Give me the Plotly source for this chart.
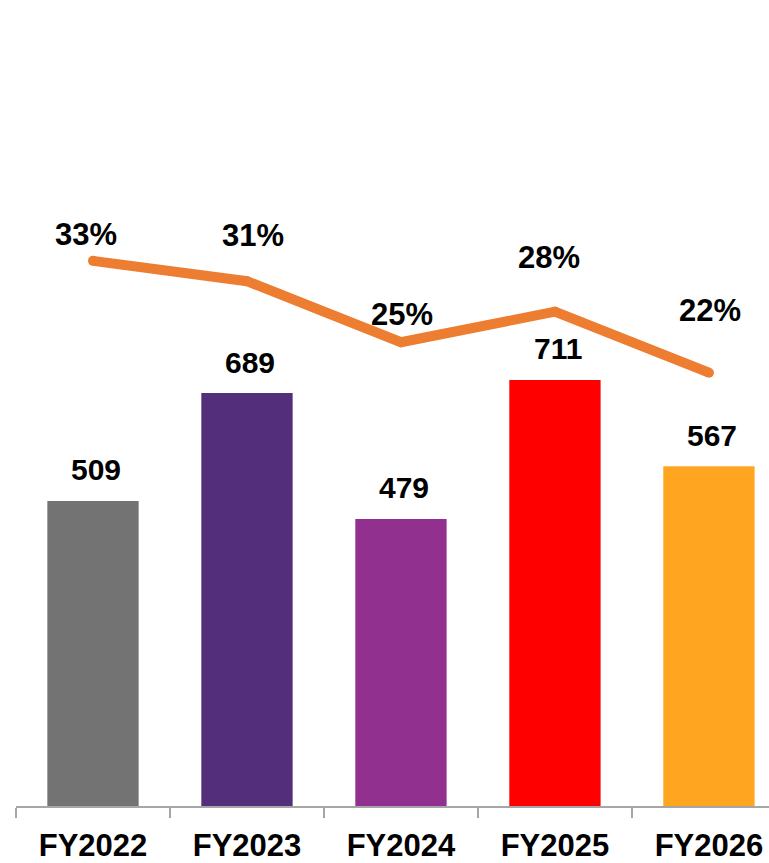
import plotly.graph_objects as go

# Fiscal years and values
years = ["FY2022", "FY2023", "FY2024", "FY2025", "FY2026"]
amounts = [509, 689, 479, 711, 567]
ratios = [33, 31, 25, 28, 22]
ratio_labels = ["33%", "31%", "25%", "28%", "22%"]

bar_colors = ["#737373", "#532F7B", "#91308E", "#FF0000", "#FFA51F"]
line_color = "#ED7D31"
font_family = "Arial, Liberation Sans, sans-serif"

# per-label offsets (pixels) for the percentage labels
pct_dx = [-7, 6, 1, -6, 1]
pct_dy = [26, 46, 28, 54, 62]

fig = go.Figure()

fig.add_trace(go.Bar(
    x=years, y=amounts,
    marker=dict(color=bar_colors, line=dict(width=0)),
    width=0.593,
    showlegend=False,
    hoverinfo="skip",
))

fig.add_trace(go.Scatter(
    x=years, y=ratios, yaxis="y2",
    mode="lines+markers",
    line=dict(color=line_color, width=10),
    marker=dict(color=line_color, size=10),
    showlegend=False,
    hoverinfo="skip",
))

annotations = []
for yr, v in zip(years, amounts):
    annotations.append(dict(
        x=yr, y=v, xref="x", yref="y",
        text=str(v), showarrow=False,
        yanchor="middle", xanchor="center",
        xshift=3, yshift=31,
        font=dict(family=font_family, size=30, color="#000000", weight="bold"),
    ))
for yr, v, lab, dx, dy in zip(years, ratios, ratio_labels, pct_dx, pct_dy):
    annotations.append(dict(
        x=yr, y=v, xref="x", yref="y2",
        text=lab, showarrow=False,
        yanchor="middle", xanchor="center",
        xshift=dx, yshift=dy,
        font=dict(family=font_family, size=31, color="#000000", weight="bold"),
    ))

fig.update_layout(
    width=769, height=863,
    margin=dict(l=16, r=0, t=0, b=57),
    paper_bgcolor="white", plot_bgcolor="white",
    bargap=0.407,
    annotations=annotations,
    xaxis=dict(
        type="category",
        range=[-0.5, 4.39],
        showline=True, linecolor="#A6A6A6", linewidth=1.5,
        ticks="outside", tickson="boundaries", ticklen=10,
        tickcolor="#A6A6A6", tickwidth=1.5,
        ticklabelstandoff=11,
        showgrid=False, zeroline=False,
        tickfont=dict(family=font_family, size=31, color="#000000", weight="bold"),
    ),
    yaxis=dict(
        range=[0, 1345],
        visible=False, showgrid=False, zeroline=False,
    ),
    yaxis2=dict(
        range=[-20.62, 58.66],
        overlaying="y", side="right",
        visible=False, showgrid=False, zeroline=False,
    ),
)

fig.write_html("out.html")
